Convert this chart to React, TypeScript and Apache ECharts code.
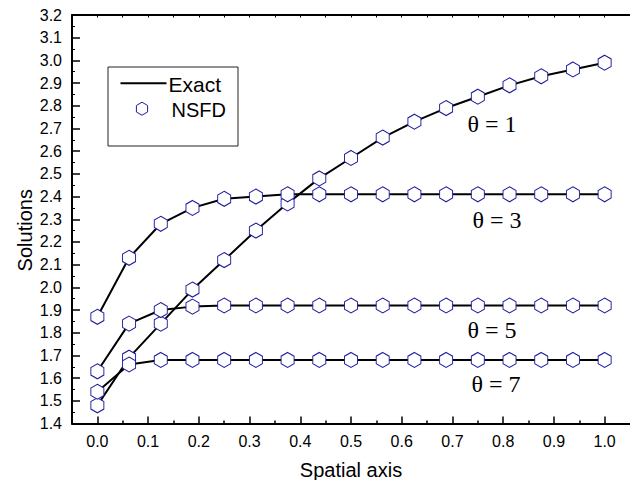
import React, { useEffect, useRef } from "react";
import * as echarts from "echarts";

const xValues = [0, 0.0625, 0.125, 0.1875, 0.25, 0.3125, 0.375, 0.4375, 0.5, 0.5625, 0.625, 0.6875, 0.75, 0.8125, 0.875, 0.9375, 1.0];
const theta1 = [1.48, 1.69, 1.84, 1.99, 2.12, 2.25, 2.37, 2.48, 2.57, 2.66, 2.73, 2.79, 2.84, 2.89, 2.93, 2.96, 2.99];
const theta3 = [1.87, 2.13, 2.28, 2.35, 2.39, 2.4, 2.41, 2.41, 2.41, 2.41, 2.41, 2.41, 2.41, 2.41, 2.41, 2.41, 2.41];
const theta5 = [1.63, 1.84, 1.9, 1.915, 1.92, 1.92, 1.92, 1.92, 1.92, 1.92, 1.92, 1.92, 1.92, 1.92, 1.92, 1.92, 1.92];
const theta7 = [1.54, 1.66, 1.68, 1.68, 1.68, 1.68, 1.68, 1.68, 1.68, 1.68, 1.68, 1.68, 1.68, 1.68, 1.68, 1.68, 1.68];
const seriesNames = ["θ = 1", "θ = 3", "θ = 5", "θ = 7"];
const xMajorTicks = [0, 0.1, 0.2, 0.3, 0.4, 0.5, 0.6, 0.7, 0.8, 0.9, 1.0];
const xMinorTicks = [0.05, 0.15, 0.25, 0.35, 0.45, 0.55, 0.65, 0.75, 0.85, 0.95];
const xTopTicks = [0, 0.05, 0.1, 0.15, 0.2, 0.25, 0.3, 0.35, 0.4, 0.45, 0.5, 0.55, 0.6, 0.65, 0.7, 0.75, 0.8, 0.85, 0.9, 0.95, 1.0];

const SANS = "'Liberation Sans', Arial, sans-serif";
const SERIF = "'Liberation Serif', 'Times New Roman', serif";
const MARKER = "#1c1ca0";
const HEX = "path://M0,-1 L0.866,-0.5 L0.866,0.5 L0,1 L-0.866,0.5 L-0.866,-0.5 Z";

export default function App() {
  const ref = useRef<HTMLDivElement>(null);
  useEffect(() => {
    if (!ref.current) return;
    const chart = echarts.init(ref.current, null, { renderer: "svg" });
    const all = [theta1, theta3, theta5, theta7];
    const series: any[] = [];
    all.forEach((vals, i) => {
      const data = xValues.map((x, j) => [x, vals[j]]);
      series.push({
        name: "Exact",
        id: "exact" + i,
        type: "line",
        data,
        showSymbol: false,
        symbol: "none",
        lineStyle: { color: "#000", width: 2 },
        z: 2,
      });
      series.push({
        name: "NSFD",
        id: "nsfd" + i,
        type: "scatter",
        data,
        symbol: HEX,
        symbolSize: [13, 15],
        itemStyle: { color: "#fff", borderColor: MARKER, borderWidth: 1, opacity: 1 },
        z: 3,
      });
    });
    const labelPos = [
      [492, 124],
      [497, 220],
      [492, 330],
      [496, 384],
    ];
    const option: any = {
      animation: false,
      backgroundColor: "#fff",
      grid: { left: 72, top: 15, right: 0, bottom: 56.5, containLabel: false, outerBoundsMode: "none" },
      xAxis: [
        {
          type: "value",
          min: -0.05,
          max: 1.05,
          position: "bottom",
          axisLine: { show: true, onZero: false, lineStyle: { color: "#000", width: 2 } },
          axisTick: { show: true, inside: true, length: 7, customValues: xMajorTicks, lineStyle: { color: "#000", width: 1.5 } },
          axisLabel: {
            customValues: xMajorTicks,
            formatter: (v: number) => v.toFixed(1),
            color: "#000",
            fontSize: 16,
            fontFamily: SANS,
            margin: 10,
          },
          splitLine: { show: false },
          name: "Spatial axis",
          nameLocation: "middle",
          nameGap: 36,
          nameMoveOverlap: false,
          nameTextStyle: { color: "#000", fontSize: 20, fontFamily: SANS },
        },
        {
          type: "value",
          min: -0.05,
          max: 1.05,
          position: "bottom",
          axisLine: { show: false, onZero: false },
          axisTick: { show: true, inside: true, length: 3, customValues: xMinorTicks, lineStyle: { color: "#000", width: 1.5 } },
          axisLabel: { show: false },
          splitLine: { show: false },
        },
        {
          type: "value",
          min: -0.05,
          max: 1.05,
          position: "top",
          axisLine: { show: true, onZero: false, lineStyle: { color: "#000", width: 2 } },
          axisTick: { show: true, inside: true, length: 2.5, customValues: xTopTicks, lineStyle: { color: "#000", width: 1 } },
          axisLabel: { show: false },
          splitLine: { show: false },
        },
      ],
      yAxis: [
        {
          type: "value",
          min: 1.4,
          max: 3.2,
          interval: 0.1,
          position: "left",
          axisLine: { show: true, onZero: false, lineStyle: { color: "#000", width: 2 } },
          axisTick: { show: true, inside: true, length: 8, lineStyle: { color: "#000", width: 1.5 } },
          minorTick: { show: true, splitNumber: 2, length: 3, lineStyle: { color: "#000", width: 1 } },
          axisLabel: {
            formatter: (v: number) => v.toFixed(1),
            color: "#000",
            fontSize: 16,
            fontFamily: SANS,
            margin: 10,
          },
          splitLine: { show: false },
          minorSplitLine: { show: false },
          name: "Solutions",
          nameLocation: "middle",
          nameGap: 37,
          nameMoveOverlap: false,
          nameTextStyle: { color: "#000", fontSize: 20, fontFamily: SANS, padding: [0, 22, 0, 0] },
        },
      ],
      series,
      graphic: [
        ...seriesNames.map((t, i) => ({
          type: "text",
          x: labelPos[i][0],
          y: labelPos[i][1],
          style: {
            text: t,
            font: `24px ${SERIF}`,
            fill: "#000",
            align: "center",
            verticalAlign: "middle",
          },
          z: 10,
        })),
        {
          type: "rect",
          shape: { x: 108, y: 67, width: 130, height: 79 },
          style: { fill: "#fff", stroke: "#222", lineWidth: 1 },
          z: 10,
        },
        {
          type: "line",
          shape: { x1: 120.5, y1: 83.3, x2: 166.5, y2: 83.3 },
          style: { stroke: "#000", lineWidth: 2 },
          z: 11,
        },
        {
          type: "text",
          x: 168.5,
          y: 84,
          style: { text: "Exact", font: `21px ${SANS}`, fill: "#000", verticalAlign: "middle" },
          z: 11,
        },
        {
          type: "polygon",
          shape: {
            points: [
              [142, 102.2],
              [147.6, 105.5],
              [147.6, 112],
              [142, 115.2],
              [136.4, 112],
              [136.4, 105.5],
            ],
          },
          style: { fill: "#fff", stroke: MARKER, lineWidth: 1 },
          z: 11,
        },
        {
          type: "text",
          x: 171.5,
          y: 109.5,
          style: { text: "NSFD", font: `20px ${SANS}`, fill: "#000", verticalAlign: "middle" },
          z: 11,
        },
      ],
    };
    chart.setOption(option);
    return () => chart.dispose();
  }, []);
  return <div ref={ref} style={{ position: "fixed", top: 0, left: 0, width: 630, height: 480 }} />;
}
